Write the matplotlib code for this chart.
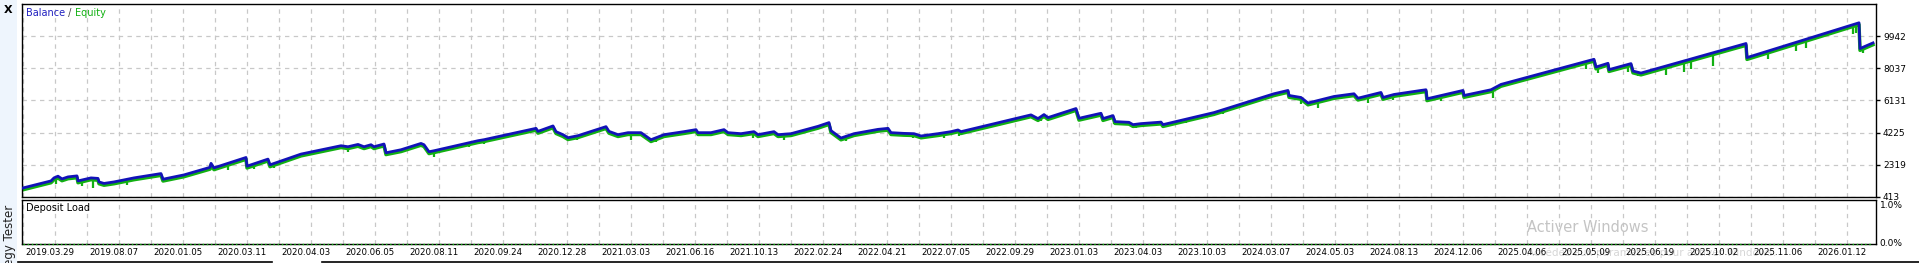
import matplotlib.pyplot as plt
import numpy as np
from matplotlib import transforms

# balance curve (trade number, account balance)
trade = [0, 28, 31, 35, 39, 45, 54, 55, 68, 75, 76, 81, 91, 111, 138, 140,
         161, 187, 188, 191, 223, 224, 245, 247, 278, 318, 325, 335, 341,
         348, 351, 361, 363, 378, 398, 401, 406, 411, 455, 461, 513, 515,
         530, 533, 540, 545, 555, 583, 586, 595, 605, 618, 628, 641, 661,
         673, 675, 688, 701, 705, 718, 731, 735, 751, 755, 768, 795, 806,
         808, 818, 831, 855, 865, 868, 881, 891, 898, 915, 928, 935, 938,
         1008, 1015, 1021, 1025, 1053, 1056, 1078, 1080, 1090, 1092, 1106,
         1110, 1118, 1138, 1140, 1191, 1251, 1265, 1266, 1278, 1285, 1311,
         1331, 1335, 1358, 1360, 1371, 1398, 1403, 1404, 1440, 1441, 1468,
         1478, 1571, 1573, 1585, 1586, 1608, 1610, 1618, 1723, 1724, 1836,
         1837, 1850]
balance = [949, 1366, 1545, 1646, 1485, 1604, 1664, 1366, 1545, 1515, 1306,
           1217, 1306, 1545, 1801, 1467, 1723, 2170, 2408, 2140, 2754, 2241,
           2658, 2319, 2956, 3451, 3391, 3528, 3391, 3510, 3391, 3552, 3034,
           3212, 3588, 3510, 3093, 3153, 3748, 3808, 4481, 4302, 4624, 4285,
           4106, 3927, 4046, 4582, 4302, 4106, 4225, 4225, 3808, 4106, 4285,
           4404, 4225, 4225, 4404, 4225, 4165, 4285, 4106, 4285, 4106, 4165,
           4600, 4821, 4344, 3909, 4165, 4421, 4481, 4225, 4183, 4165, 4028,
           4165, 4285, 4386, 4285, 5279, 5059, 5297, 5118, 5655, 5077, 5374,
           5059, 5237, 4880, 4838, 4701, 4761, 4850, 4701, 5416, 6530, 6727,
           6429, 6310, 5982, 6369, 6530, 6268, 6607, 6310, 6488, 6727, 6768,
           6232, 6727, 6429, 6768, 7084, 8573, 8114, 8335, 7960, 8317, 7876,
           7757, 9508, 8674, 10735, 9210, 9544]

# equity dips below the balance (trade number, equity low)
dip_trade = [33, 59, 70, 104, 205, 231, 251, 325, 411, 446, 461, 554, 608,
             633, 688, 710, 730, 761, 823, 890, 921, 936, 976, 1018, 1091,
             1113, 1126, 1163, 1200, 1278, 1295, 1345, 1370, 1418, 1470,
             1563, 1575, 1605, 1615, 1643, 1661, 1668, 1690, 1745, 1773,
             1783, 1830, 1833, 1840]
dip_equity = [1187, 1068, 949, 1128, 2021, 2081, 2122, 3052, 2754, 3391,
              3570, 3808, 3808, 3689, 4046, 4046, 3927, 3808, 3748, 3927,
              3927, 4046, 4642, 4940, 4761, 4523, 4701, 4821, 5357, 5952,
              5714, 6012, 6131, 6089, 6250, 7977, 7739, 7816, 7561, 7620,
              7816, 7977, 8156, 8573, 9067, 9228, 10062, 10122, 8948]

y_ticks = [413, 2319, 4225, 6131, 8037, 9942]
y_top = 11849

dates = ['2019.03.29', '2019.08.07', '2020.01.05', '2020.03.11', '2020.04.03',
         '2020.06.05', '2020.08.11', '2020.09.24', '2020.12.28', '2021.03.03',
         '2021.06.16', '2021.10.13', '2022.02.24', '2022.04.21', '2022.07.05',
         '2022.09.29', '2023.01.03', '2023.04.03', '2023.10.03', '2024.03.07',
         '2024.05.03', '2024.08.13', '2024.12.06', '2025.04.06', '2025.05.09',
         '2025.06.19', '2025.10.02', '2025.11.06', '2026.01.12']

blue = '#1212b8'
green = '#12b012'
grid_kw = dict(color='#c8c8c8', linestyle=(0, (3.5, 3.5)), linewidth=0.9)

W, H = 1919, 263
fig = plt.figure(figsize=(W / 100, H / 100), dpi=100)
fig.patch.set_facecolor('white')

# left strip of the terminal window
fig.patches.append(plt.Rectangle((0, 0), 17 / W, 1, transform=fig.transFigure,
                                 facecolor='#eef5fd', edgecolor='none'))
fig.text(8 / W, 1 - 10 / H, 'X', fontsize=8, fontweight='bold',
         ha='center', va='center')
fig.text(9 / W, 1 - 205 / H, 'Strategy Tester', rotation=90, fontsize=8.5,
         color='#222222', ha='center', va='top')

x0, x1 = 22 / W, 1876 / W
ax = fig.add_axes([x0, 1 - 197 / H, x1 - x0, 193 / H])
ax2 = fig.add_axes([x0, 1 - 244 / H, x1 - x0, 44.5 / H])

xmax = 1853
grid_x = np.arange(0, xmax, 32)

for a in (ax, ax2):
    a.set_xlim(-1, xmax)
    a.set_xticks(grid_x)
    a.grid(axis='x', **grid_kw)
    a.set_axisbelow(True)
    for s in a.spines.values():
        s.set_linewidth(1.0)
        s.set_color('black')

# main panel
ax.set_ylim(y_ticks[0], y_top)
ax.set_yticks(y_ticks)
ax.set_yticklabels([str(v) for v in y_ticks])
ax.grid(axis='y', **grid_kw)
ax.yaxis.tick_right()
ax.tick_params(axis='y', direction='out', length=3, width=1, pad=2,
               labelsize=6.5)
ax.tick_params(axis='x', length=0, labelbottom=False)

tb = np.array(trade)
vb = np.array(balance)
base = np.interp(dip_trade, tb, vb)
ax.vlines(dip_trade, dip_equity, base, color=green, linewidth=1.6, zorder=2)
shift = transforms.offset_copy(ax.transData, fig=fig, x=0, y=-1.8,
                               units='dots')
ax.plot(tb, vb, color=green, linewidth=2.5, transform=shift, zorder=2)
ax.plot(tb, vb, color=blue, linewidth=2.0, zorder=3)

ax.text(0.0022, 0.955, 'Balance', transform=ax.transAxes,
        fontsize=7, color='#2020c0', va='center')
ax.annotate(' / ', xy=(1, 0.5), xycoords=ax.texts[-1], fontsize=7,
            color='#444444', va='center')
ax.annotate('Equity', xy=(1, 0.5), xycoords=ax.texts[-1], fontsize=7,
            color=green, va='center')

# deposit load panel
ax2.set_ylim(0, 1)
ax2.set_yticks([])
ax2.plot(tb, np.zeros(len(tb)), color=green, linewidth=1,
         linestyle=(0, (1, 2)), zorder=4, clip_on=False)
ax2.text(0.0022, 0.82, 'Deposit Load', transform=ax2.transAxes, fontsize=7,
         va='center')
ax2.text(1.002, 0.86, '1.0%', transform=ax2.transAxes, fontsize=6.5,
         va='center')
ax2.text(1.002, 0.02, '0.0%', transform=ax2.transAxes, fontsize=6.5,
         va='center')
labels = [dates[i // 2] if i % 2 == 0 else '' for i in range(len(grid_x))]
ax2.set_xticklabels(labels, fontsize=6.2, ha='left')
ax2.tick_params(axis='x', length=0, pad=3)
for lab in ax2.get_xticklabels():
    lab.set_transform(lab.get_transform() +
                      transforms.ScaledTranslation(2 / 100, 0,
                                                   fig.dpi_scale_trans))

# window edge under the dates
fig.add_artist(plt.Line2D([18 / W, 272 / W], [1 / H, 1 / H], color='black',
                          linewidth=1.2))
fig.add_artist(plt.Line2D([322 / W, 1], [1 / H, 1 / H], color='black',
                          linewidth=1.2))

# windows activation watermark
fig.text(1527 / W, 1 - 228 / H, 'Activer Windows', fontsize=10.5,
         color='#c4c4c4', va='center')
fig.text(1527 / W, 1 - 253 / H, 'Accédez aux paramètres pour activer Windows.',
         fontsize=7.5, color='#d6d6d6', va='center', zorder=-1)

fig.savefig('out.png', dpi=100)
